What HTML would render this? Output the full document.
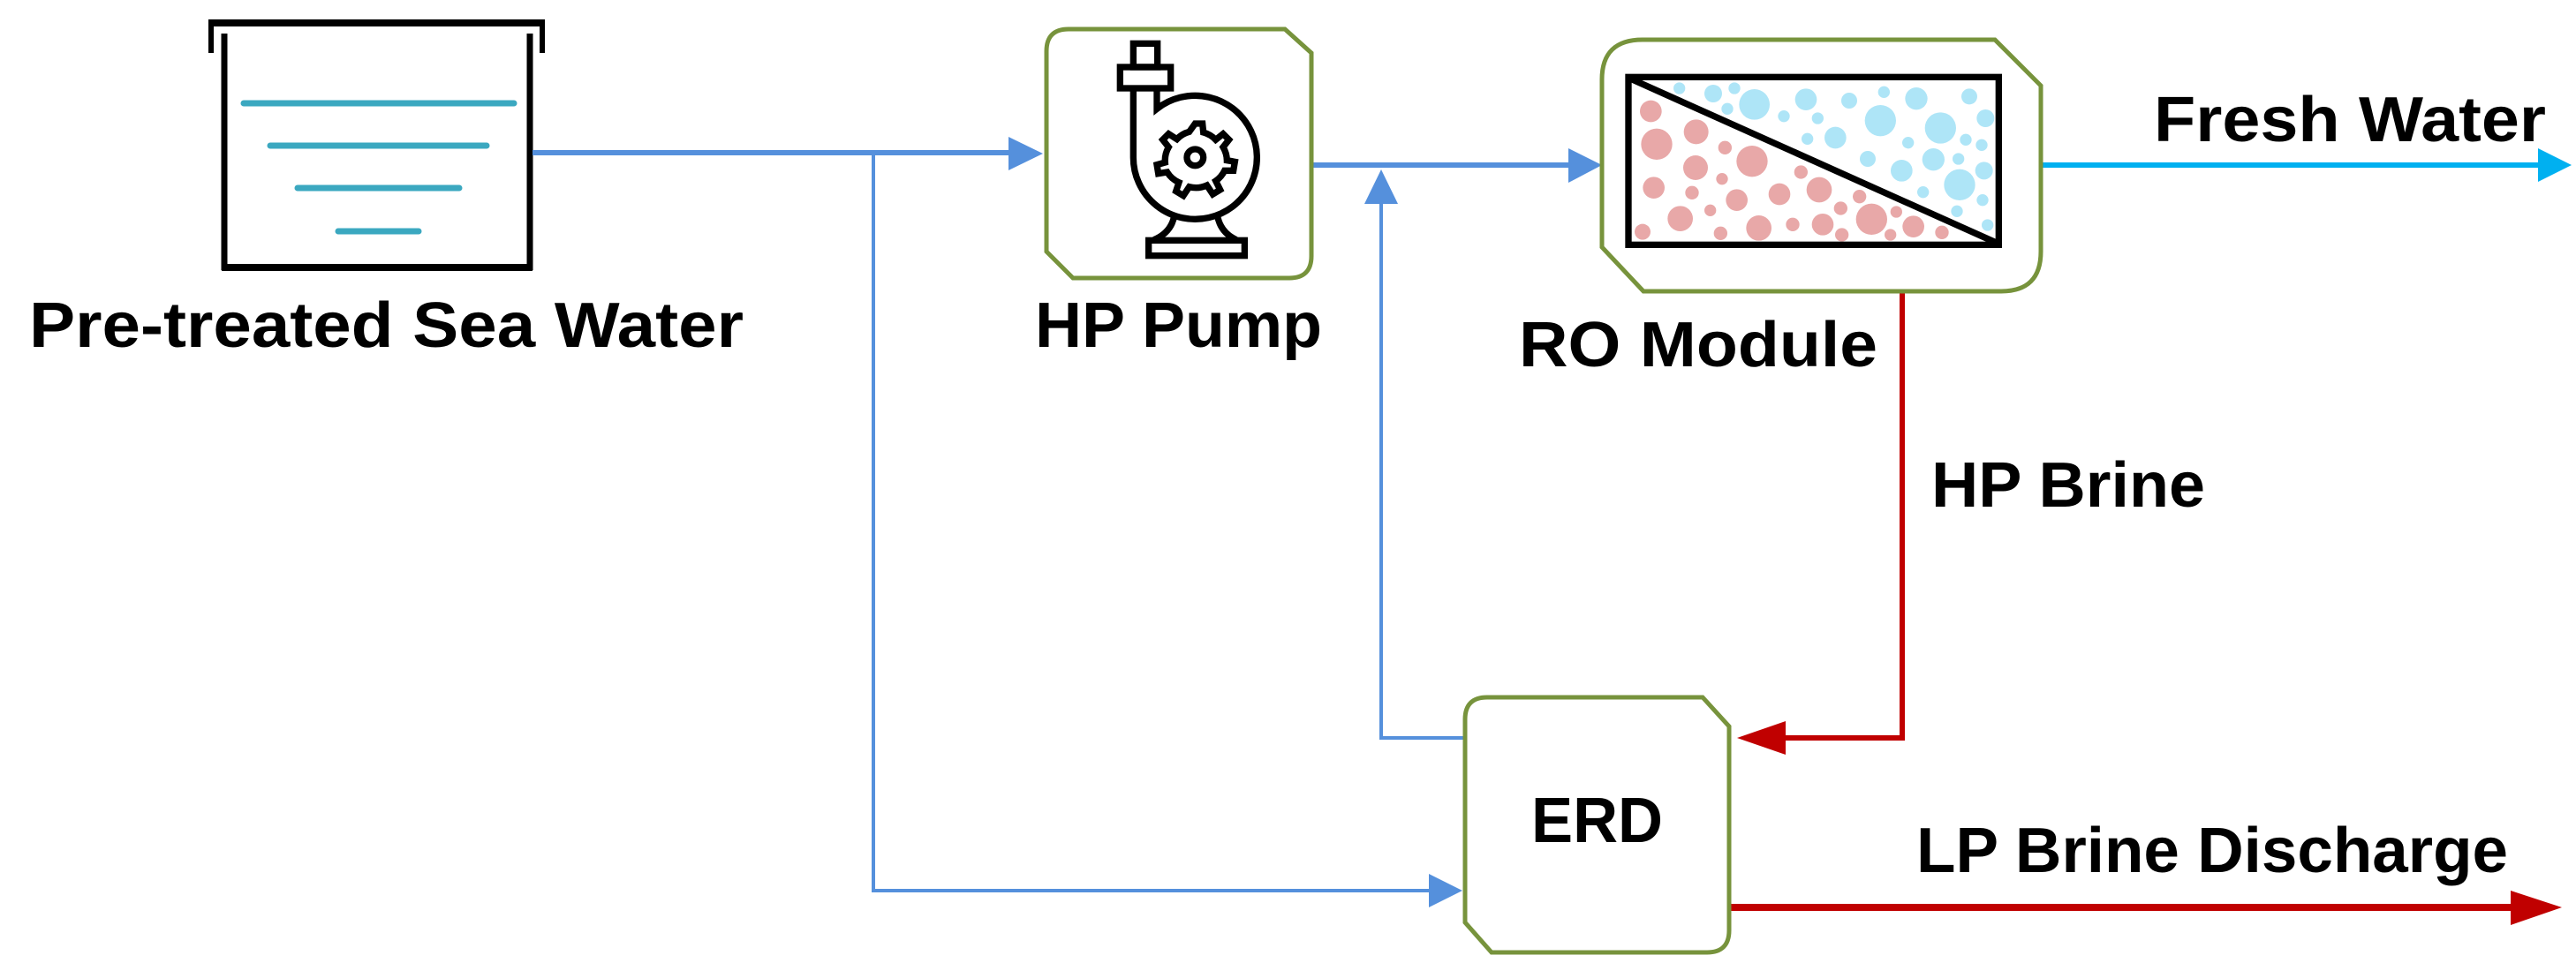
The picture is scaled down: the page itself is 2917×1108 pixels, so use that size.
<!DOCTYPE html>
<html><head><meta charset="utf-8"><style>html,body{margin:0;padding:0;background:#fff}svg{display:block}</style></head>
<body>
<svg width="2917" height="1108" viewBox="0 0 2917 1108" xmlns="http://www.w3.org/2000/svg">
<!-- Tank -->
<g stroke="#000" fill="none" stroke-linecap="butt">
<path d="M236,26 H617" stroke-width="8"/>
<path d="M239,24 V60 M614,24 V60" stroke-width="6"/>
<path d="M254,38 V306 M600,38 V306" stroke-width="7"/>
<path d="M251,303 H603" stroke-width="8"/>
</g>
<g stroke="#3ba8c0" stroke-width="7" stroke-linecap="round">
<path d="M276,117 H582 M306,165 H551 M337,213 H520 M383,262 H474"/>
</g>
<!-- Connectors blue -->
<g stroke="#5590dc" fill="none">
<path d="M603,173 H1145" stroke-width="6"/>
<path d="M989,173 V1009 H1620" stroke-width="4"/>
<path d="M1485,187 H1778" stroke-width="6"/>
<path d="M1564,228 V836 H1660" stroke-width="4"/>
</g>
<g fill="#5590dc">
<polygon points="1142,155 1181,174 1142,193"/>
<polygon points="1618,990 1656,1009 1618,1028"/>
<polygon points="1776,168 1814,187 1776,207"/>
<polygon points="1545,231 1564,192 1583,231"/>
</g>
<path d="M2311,187 H2876" stroke="#00b0f0" stroke-width="6"/>
<polygon points="2874,168 2912,187 2874,206" fill="#00b0f0"/>
<!-- Red -->
<path d="M2154,330 V836 H2020" stroke="#c00000" stroke-width="6" fill="none"/>
<polygon points="2022,817 1967,836 2022,855" fill="#c00000"/>
<path d="M1958,1028 H2845" stroke="#c00000" stroke-width="8"/>
<polygon points="2843,1009 2901,1028 2843,1048" fill="#c00000"/>
<!-- Boxes -->
<g stroke="#77933c" stroke-width="5" fill="#fff">
<path d="M1210,33 H1455 L1485,60 V290 Q1485,315 1460,315 H1215 L1185,285 V58 Q1185,33 1210,33Z"/>
<path d="M1860,45 H2259 L2311,97 V285 Q2311,330 2266,330 H1861 L1814,280 V90 Q1814,45 1860,45Z"/>
<path d="M1684,790 H1928 L1958,823 V1054 Q1958,1079 1933,1079 H1689 L1659,1045 V815 Q1659,790 1684,790Z"/>
</g>
<!-- Pump icon -->
<g transform="translate(1180,30) scale(0.33333)" stroke="#000" stroke-width="22" fill="none">
<rect x="310" y="58" width="82" height="80"/>
<rect x="265" y="138" width="172" height="72"/>
<path d="M310,210 V445 A210,210 0 1 0 390,280 V210"/>
<circle cx="520" cy="445" r="28"/>
<path d="M520,330 L545,330 L548,360 A90,90 0 0 1 590,385 L615,365 L635,385 L615,410 A90,90 0 0 1 628,455 L655,460 L650,490 L620,490 A90,90 0 0 1 590,525 L605,555 L580,570 L560,540 A90,90 0 0 1 500,545 L480,575 L455,560 L465,530 A90,90 0 0 1 425,495 L395,500 L390,470 L418,462 A90,90 0 0 1 430,410 L410,385 L430,365 L458,383 A90,90 0 0 1 500,358 Z"/>
<path d="M450,640 Q440,700 380,725 M595,640 Q605,700 660,725"/>
<rect x="362" y="727" width="326" height="52"/>
</g>
<!-- RO membrane -->
<g transform="translate(1840,80) scale(0.33333)">
<g fill="#aee5f7">
<circle cx="185" cy="60" r="20"/><circle cx="300" cy="78" r="30"/><circle cx="372" cy="60" r="20"/><circle cx="440" cy="115" r="52"/><circle cx="348" cy="130" r="20"/><circle cx="615" cy="98" r="37"/><circle cx="540" cy="155" r="20"/><circle cx="655" cy="162" r="20"/><circle cx="762" cy="102" r="27"/><circle cx="880" cy="73" r="20"/><circle cx="868" cy="170" r="53"/><circle cx="990" cy="95" r="38"/><circle cx="1170" cy="88" r="27"/><circle cx="1225" cy="162" r="30"/><circle cx="1072" cy="195" r="53"/><circle cx="715" cy="228" r="37"/><circle cx="620" cy="232" r="20"/><circle cx="962" cy="245" r="20"/><circle cx="1158" cy="235" r="20"/><circle cx="1212" cy="253" r="20"/><circle cx="825" cy="300" r="27"/><circle cx="1048" cy="302" r="38"/><circle cx="1133" cy="300" r="20"/><circle cx="940" cy="340" r="37"/><circle cx="1220" cy="340" r="30"/><circle cx="1137" cy="388" r="53"/><circle cx="1013" cy="413" r="20"/><circle cx="1215" cy="440" r="20"/><circle cx="1128" cy="478" r="20"/><circle cx="1232" cy="525" r="20"/>
</g>
<g fill="#e8a8a8">
<circle cx="88" cy="138" r="37"/><circle cx="108" cy="250" r="53"/><circle cx="242" cy="208" r="42"/><circle cx="340" cy="262" r="23"/><circle cx="240" cy="330" r="42"/><circle cx="432" cy="308" r="53"/><circle cx="330" cy="368" r="20"/><circle cx="98" cy="398" r="37"/><circle cx="228" cy="415" r="23"/><circle cx="598" cy="345" r="23"/><circle cx="660" cy="405" r="43"/><circle cx="380" cy="440" r="37"/><circle cx="525" cy="420" r="37"/><circle cx="797" cy="428" r="23"/><circle cx="290" cy="475" r="20"/><circle cx="188" cy="503" r="43"/><circle cx="733" cy="468" r="23"/><circle cx="838" cy="505" r="53"/><circle cx="922" cy="480" r="20"/><circle cx="455" cy="535" r="43"/><circle cx="570" cy="523" r="23"/><circle cx="672" cy="523" r="37"/><circle cx="60" cy="548" r="27"/><circle cx="325" cy="553" r="23"/><circle cx="737" cy="558" r="23"/><circle cx="902" cy="558" r="20"/><circle cx="980" cy="530" r="37"/><circle cx="1077" cy="550" r="23"/>
</g>
<rect x="12" y="22" width="1258" height="570" fill="none" stroke="#000" stroke-width="22"/>
<path d="M20,28 L1262,585" stroke="#000" stroke-width="22"/>
</g>
<!-- Labels -->
<g font-family="'Liberation Sans', sans-serif" font-weight="bold" font-size="72" fill="#000">
<text x="33" y="393" textLength="809" lengthAdjust="spacingAndGlyphs">Pre-treated Sea Water</text>
<text x="1172" y="393" textLength="325" lengthAdjust="spacingAndGlyphs">HP Pump</text>
<text x="1720" y="415" textLength="406" lengthAdjust="spacingAndGlyphs">RO Module</text>
<text x="2439" y="160" textLength="444" lengthAdjust="spacingAndGlyphs">Fresh Water</text>
<text x="2187" y="574" textLength="310" lengthAdjust="spacingAndGlyphs">HP Brine</text>
<text x="1734" y="954" textLength="149" lengthAdjust="spacingAndGlyphs">ERD</text>
<text x="2170" y="988" textLength="670" lengthAdjust="spacingAndGlyphs">LP Brine Discharge</text>
</g>
</svg>
</body></html>
